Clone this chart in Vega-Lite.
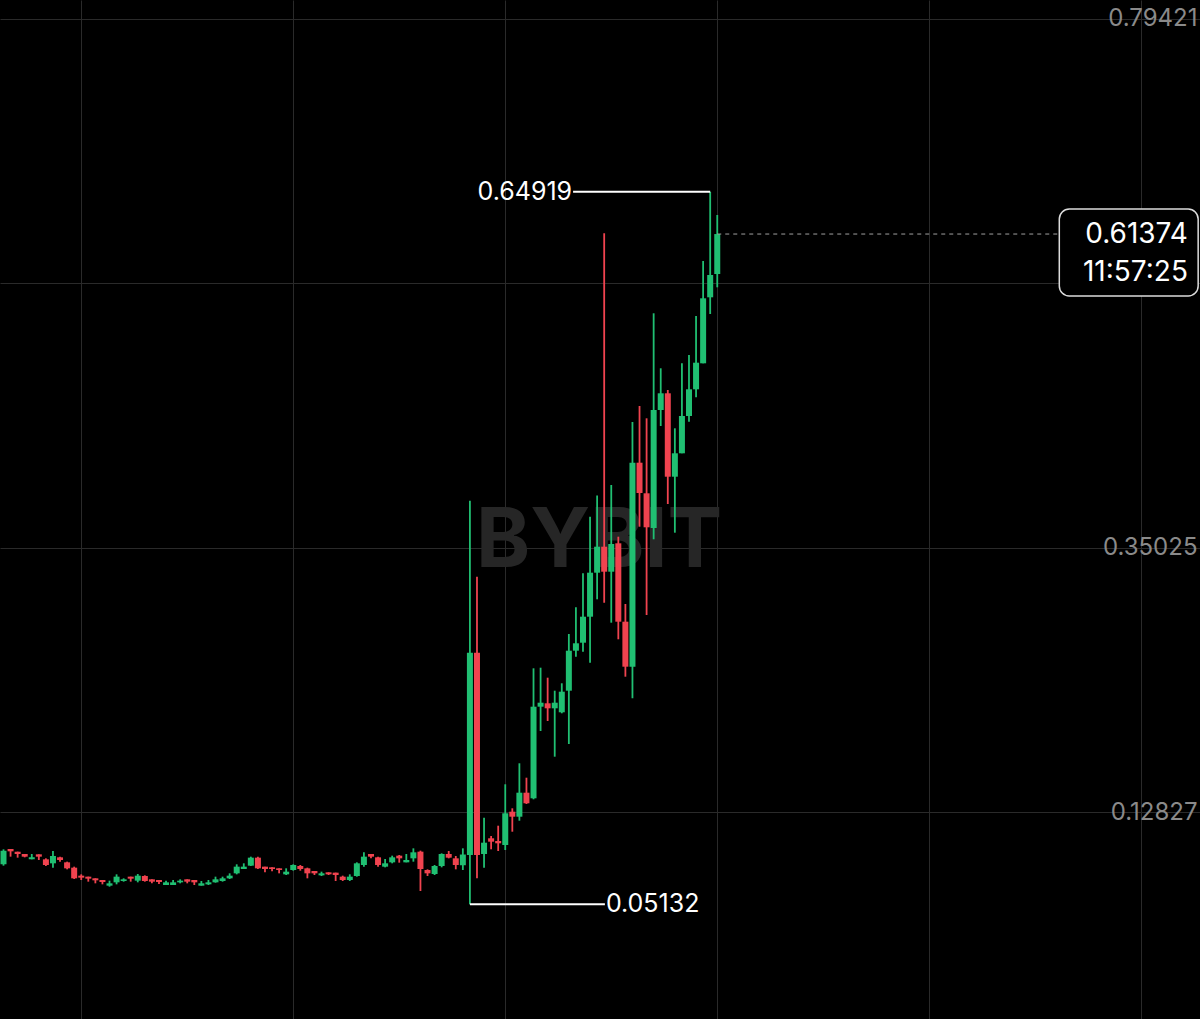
{
  "$schema": "https://vega.github.io/schema/vega-lite/v6.json",
  "width": 1200,
  "height": 1019,
  "autosize": {"type": "none"},
  "padding": 0,
  "background": "#000000",
  "config": {
    "view": {"stroke": null},
    "font": "Inter",
    "axis": {"gridColor": "#2a2a2a", "gridWidth": 1}
  },
  "datasets": {
    "candles": [
      {"i":0,"o":0.08477,"h":0.09735,"l":0.08365,"c":0.09624},
      {"i":1,"o":0.09763,"h":0.09763,"l":0.09120,"c":0.09568},
      {"i":2,"o":0.09540,"h":0.09540,"l":0.09036,"c":0.09344},
      {"i":3,"o":0.09344,"h":0.09344,"l":0.09064,"c":0.09120},
      {"i":4,"o":0.08896,"h":0.09344,"l":0.08896,"c":0.09064},
      {"i":5,"o":0.09316,"h":0.09316,"l":0.08840,"c":0.09120},
      {"i":6,"o":0.08896,"h":0.08980,"l":0.08337,"c":0.08421},
      {"i":7,"o":0.08561,"h":0.09596,"l":0.08197,"c":0.09176},
      {"i":8,"o":0.09064,"h":0.09120,"l":0.08700,"c":0.08840},
      {"i":9,"o":0.08644,"h":0.08700,"l":0.08057,"c":0.08141},
      {"i":10,"o":0.08197,"h":0.08281,"l":0.07246,"c":0.07302},
      {"i":11,"o":0.07525,"h":0.07637,"l":0.07162,"c":0.07358},
      {"i":12,"o":0.07441,"h":0.07441,"l":0.07022,"c":0.07274},
      {"i":13,"o":0.07302,"h":0.07302,"l":0.06882,"c":0.07134},
      {"i":14,"o":0.07162,"h":0.07162,"l":0.06798,"c":0.06994},
      {"i":15,"o":0.06686,"h":0.07106,"l":0.06602,"c":0.06882},
      {"i":16,"o":0.06966,"h":0.07637,"l":0.06798,"c":0.07441},
      {"i":17,"o":0.07078,"h":0.07302,"l":0.07022,"c":0.07218},
      {"i":18,"o":0.07441,"h":0.07441,"l":0.07022,"c":0.07274},
      {"i":19,"o":0.07106,"h":0.07665,"l":0.06966,"c":0.07525},
      {"i":20,"o":0.07497,"h":0.07553,"l":0.07022,"c":0.07078},
      {"i":21,"o":0.07218,"h":0.07218,"l":0.06882,"c":0.07022},
      {"i":22,"o":0.07162,"h":0.07162,"l":0.06826,"c":0.06994},
      {"i":23,"o":0.06742,"h":0.07106,"l":0.06742,"c":0.06966},
      {"i":24,"o":0.06742,"h":0.07162,"l":0.06742,"c":0.06966},
      {"i":25,"o":0.06966,"h":0.07218,"l":0.06882,"c":0.07106},
      {"i":26,"o":0.07218,"h":0.07218,"l":0.06882,"c":0.07022},
      {"i":27,"o":0.07162,"h":0.07162,"l":0.06742,"c":0.06966},
      {"i":28,"o":0.06686,"h":0.07078,"l":0.06686,"c":0.06882},
      {"i":29,"o":0.06798,"h":0.07162,"l":0.06742,"c":0.06966},
      {"i":30,"o":0.06966,"h":0.07441,"l":0.06938,"c":0.07218},
      {"i":31,"o":0.07078,"h":0.07441,"l":0.07022,"c":0.07302},
      {"i":32,"o":0.07302,"h":0.07721,"l":0.07246,"c":0.07525},
      {"i":33,"o":0.07721,"h":0.08477,"l":0.07637,"c":0.08281},
      {"i":34,"o":0.08085,"h":0.08561,"l":0.08085,"c":0.08281},
      {"i":35,"o":0.08365,"h":0.09120,"l":0.08337,"c":0.09036},
      {"i":36,"o":0.09036,"h":0.09120,"l":0.08085,"c":0.08141},
      {"i":37,"o":0.08281,"h":0.08281,"l":0.07805,"c":0.08085},
      {"i":38,"o":0.08225,"h":0.08225,"l":0.07889,"c":0.08085},
      {"i":39,"o":0.08141,"h":0.08141,"l":0.07721,"c":0.08001},
      {"i":40,"o":0.07637,"h":0.08141,"l":0.07581,"c":0.07861},
      {"i":41,"o":0.08001,"h":0.08477,"l":0.07945,"c":0.08421},
      {"i":42,"o":0.08337,"h":0.08421,"l":0.07945,"c":0.08085},
      {"i":43,"o":0.08141,"h":0.08197,"l":0.07302,"c":0.07721},
      {"i":44,"o":0.07917,"h":0.07917,"l":0.07581,"c":0.07721},
      {"i":45,"o":0.07553,"h":0.07861,"l":0.07497,"c":0.07721},
      {"i":46,"o":0.07805,"h":0.07805,"l":0.07581,"c":0.07637},
      {"i":47,"o":0.07777,"h":0.07777,"l":0.07078,"c":0.07581},
      {"i":48,"o":0.07441,"h":0.07525,"l":0.07078,"c":0.07162},
      {"i":49,"o":0.07162,"h":0.07637,"l":0.07078,"c":0.07441},
      {"i":50,"o":0.07497,"h":0.08644,"l":0.07441,"c":0.08561},
      {"i":51,"o":0.08421,"h":0.09484,"l":0.08281,"c":0.09120},
      {"i":52,"o":0.09344,"h":0.09344,"l":0.08980,"c":0.09120},
      {"i":53,"o":0.09064,"h":0.09120,"l":0.08281,"c":0.08421},
      {"i":54,"o":0.08281,"h":0.08924,"l":0.08225,"c":0.08561},
      {"i":55,"o":0.08644,"h":0.09204,"l":0.08561,"c":0.09064},
      {"i":56,"o":0.09204,"h":0.09260,"l":0.08616,"c":0.08980},
      {"i":57,"o":0.08644,"h":0.09344,"l":0.08644,"c":0.08840},
      {"i":58,"o":0.08980,"h":0.09819,"l":0.08700,"c":0.09484},
      {"i":59,"o":0.09540,"h":0.09624,"l":0.06239,"c":0.08085},
      {"i":60,"o":0.08001,"h":0.08057,"l":0.07497,"c":0.07721},
      {"i":61,"o":0.07665,"h":0.08421,"l":0.07581,"c":0.08337},
      {"i":62,"o":0.08337,"h":0.09400,"l":0.08225,"c":0.09344},
      {"i":63,"o":0.09344,"h":0.09596,"l":0.08980,"c":0.09036},
      {"i":64,"o":0.08980,"h":0.09176,"l":0.08057,"c":0.08421},
      {"i":65,"o":0.08400,"h":0.09820,"l":0.08000,"c":0.09300},
      {"i":66,"o":0.09260,"h":0.38994,"l":0.05132,"c":0.26238},
      {"i":67,"o":0.26238,"h":0.32616,"l":0.07304,"c":0.09260},
      {"i":68,"o":0.09344,"h":0.12390,"l":0.08195,"c":0.10292},
      {"i":69,"o":0.10662,"h":0.10855,"l":0.09738,"c":0.10377},
      {"i":70,"o":0.10435,"h":0.11719,"l":0.09596,"c":0.10242},
      {"i":71,"o":0.10099,"h":0.15194,"l":0.09680,"c":0.12760},
      {"i":72,"o":0.12894,"h":0.13179,"l":0.11215,"c":0.12474},
      {"i":73,"o":0.12474,"h":0.16956,"l":0.12138,"c":0.14488},
      {"i":74,"o":0.14488,"h":0.15747,"l":0.13540,"c":0.13600},
      {"i":75,"o":0.14018,"h":0.24928,"l":0.13934,"c":0.21706},
      {"i":76,"o":0.21706,"h":0.24979,"l":0.19667,"c":0.22041},
      {"i":77,"o":0.21991,"h":0.24140,"l":0.20506,"c":0.21571},
      {"i":78,"o":0.21571,"h":0.23049,"l":0.17510,"c":0.22041},
      {"i":79,"o":0.21236,"h":0.23670,"l":0.21152,"c":0.22965},
      {"i":80,"o":0.23049,"h":0.27807,"l":0.18576,"c":0.26406},
      {"i":81,"o":0.26406,"h":0.30048,"l":0.25902,"c":0.27027},
      {"i":82,"o":0.27077,"h":0.32901,"l":0.26322,"c":0.29259},
      {"i":83,"o":0.29259,"h":0.37651,"l":0.25398,"c":0.32952},
      {"i":84,"o":0.32952,"h":0.39431,"l":0.30719,"c":0.35134},
      {"i":85,"o":0.35134,"h":0.61435,"l":0.30434,"c":0.33036},
      {"i":86,"o":0.33036,"h":0.40312,"l":0.28756,"c":0.35361},
      {"i":87,"o":0.35419,"h":0.35973,"l":0.27362,"c":0.28840},
      {"i":88,"o":0.28840,"h":0.30325,"l":0.24224,"c":0.25063},
      {"i":89,"o":0.25063,"h":0.45599,"l":0.22411,"c":0.42183},
      {"i":90,"o":0.42183,"h":0.46942,"l":0.36812,"c":0.39641},
      {"i":91,"o":0.39615,"h":0.45909,"l":0.29402,"c":0.36762},
      {"i":92,"o":0.36703,"h":0.54722,"l":0.35755,"c":0.46606},
      {"i":93,"o":0.46606,"h":0.50106,"l":0.45263,"c":0.48008},
      {"i":94,"o":0.48008,"h":0.48285,"l":0.38717,"c":0.41008},
      {"i":95,"o":0.41008,"h":0.45070,"l":0.36309,"c":0.42972},
      {"i":96,"o":0.42972,"h":0.50525,"l":0.42972,"c":0.46103},
      {"i":97,"o":0.46103,"h":0.51222,"l":0.45624,"c":0.48343},
      {"i":98,"o":0.48343,"h":0.54495,"l":0.47672,"c":0.50576},
      {"i":99,"o":0.50525,"h":0.59111,"l":0.50525,"c":0.55980},
      {"i":100,"o":0.56064,"h":0.64919,"l":0.54663,"c":0.57936},
      {"i":101,"o":0.58020,"h":0.62971,"l":0.56904,"c":0.61374}
    ],
    "high": [
      {"from":80.6,"to":100,"price":0.64919,"label":"0.64919"}
    ],
    "low": [
      {"from":66,"to":85.1,"price":0.05132,"label":"0.05132"}
    ],
    "last": [
      {"from":101,"to":149.4,"price":0.61374}
    ],
    "tag": [
      {"x1":149.4,"x2":169.05,"top":0.63475,"bottom":0.56173}
    ],
    "tagText": [
      {"x":167.6,"y":0.61293,"t":"0.61374"},
      {"x":167.6,"y":0.58104,"t":"11:57:25"}
    ],
    "brand": [
      {"x":84.27,"y":0.35553,"t":"BYBIT"}
    ]
  },
  "layer": [
    {
      "data": {"name": "brand"},
      "mark": {"type": "text", "font": "Inter", "fontWeight": "bold", "fontSize": 82, "color": "#262626", "align": "center", "baseline": "middle"},
      "encoding": {
        "x": {"field": "x", "type": "quantitative", "scale": {"domain": [-0.495, 169.31], "nice": false, "zero": false, "padding": 0},
              "axis": {"values": [11, 41, 71, 101, 131, 161], "labels": false, "ticks": false, "domain": false, "grid": true, "title": null}},
        "y": {"field": "y", "type": "quantitative", "scale": {"domain": [-0.04504, 0.81015], "nice": false, "zero": false, "padding": 0},
              "axis": {"orient": "right", "values": [0.12827, 0.35025, 0.57223, 0.79421], "format": ".5f",
                       "labelExpr": "datum.value > 0.5 && datum.value < 0.6 ? '' : datum.label",
                       "ticks": false, "tickSize": 0, "domain": false, "grid": true, "title": null,
                       "labelAlign": "right", "labelPadding": -3, "labelBaseline": "middle",
                       "labelFont": "Inter", "labelFontSize": 24, "labelColor": "#8a8a8a", "labelFlush": false, "labelOverlap": false}},
        "text": {"field": "t"}
      }
    },
    {
      "data": {"name": "candles"},
      "mark": {"type": "rule", "strokeWidth": 1.8},
      "encoding": {
        "x": {"field": "i", "type": "quantitative"},
        "y": {"field": "l", "type": "quantitative"},
        "y2": {"field": "h"},
        "color": {"condition": {"test": "datum.c >= datum.o", "value": "#20bf72"}, "value": "#f0434f"}
      }
    },
    {
      "data": {"name": "candles"},
      "mark": {"type": "bar", "size": 6},
      "encoding": {
        "x": {"field": "i", "type": "quantitative"},
        "y": {"field": "o", "type": "quantitative"},
        "y2": {"field": "c"},
        "color": {"condition": {"test": "datum.c >= datum.o", "value": "#20bf72"}, "value": "#f0434f"}
      }
    },
    {
      "data": {"name": "high"},
      "mark": {"type": "rule", "color": "#ffffff", "strokeWidth": 2},
      "encoding": {
        "x": {"field": "from", "type": "quantitative"},
        "x2": {"field": "to"},
        "y": {"field": "price", "type": "quantitative"}
      }
    },
    {
      "data": {"name": "high"},
      "mark": {"type": "text", "color": "#ffffff", "font": "Inter", "fontSize": 25, "align": "right", "baseline": "middle", "dx": -1},
      "encoding": {
        "x": {"field": "from", "type": "quantitative"},
        "y": {"field": "price", "type": "quantitative"},
        "text": {"field": "label"}
      }
    },
    {
      "data": {"name": "low"},
      "mark": {"type": "rule", "color": "#ffffff", "strokeWidth": 2},
      "encoding": {
        "x": {"field": "from", "type": "quantitative"},
        "x2": {"field": "to"},
        "y": {"field": "price", "type": "quantitative"}
      }
    },
    {
      "data": {"name": "low"},
      "mark": {"type": "text", "color": "#ffffff", "font": "Inter", "fontSize": 25, "align": "left", "baseline": "middle", "dx": 1},
      "encoding": {
        "x": {"field": "to", "type": "quantitative"},
        "y": {"field": "price", "type": "quantitative"},
        "text": {"field": "label"}
      }
    },
    {
      "data": {"name": "last"},
      "mark": {"type": "rule", "color": "#a0a0a0", "strokeWidth": 1, "strokeDash": [4, 4]},
      "encoding": {
        "x": {"field": "from", "type": "quantitative"},
        "x2": {"field": "to"},
        "y": {"field": "price", "type": "quantitative"}
      }
    },
    {
      "data": {"name": "tag"},
      "mark": {"type": "rect", "fill": "#000000", "stroke": "#dcdcdc", "strokeWidth": 1.5, "cornerRadius": 10},
      "encoding": {
        "x": {"field": "x1", "type": "quantitative"},
        "x2": {"field": "x2"},
        "y": {"field": "top", "type": "quantitative"},
        "y2": {"field": "bottom"}
      }
    },
    {
      "data": {"name": "tagText"},
      "mark": {"type": "text", "color": "#ffffff", "font": "Inter", "fontSize": 28, "align": "right", "baseline": "middle"},
      "encoding": {
        "x": {"field": "x", "type": "quantitative"},
        "y": {"field": "y", "type": "quantitative"},
        "text": {"field": "t"}
      }
    }
  ]
}
